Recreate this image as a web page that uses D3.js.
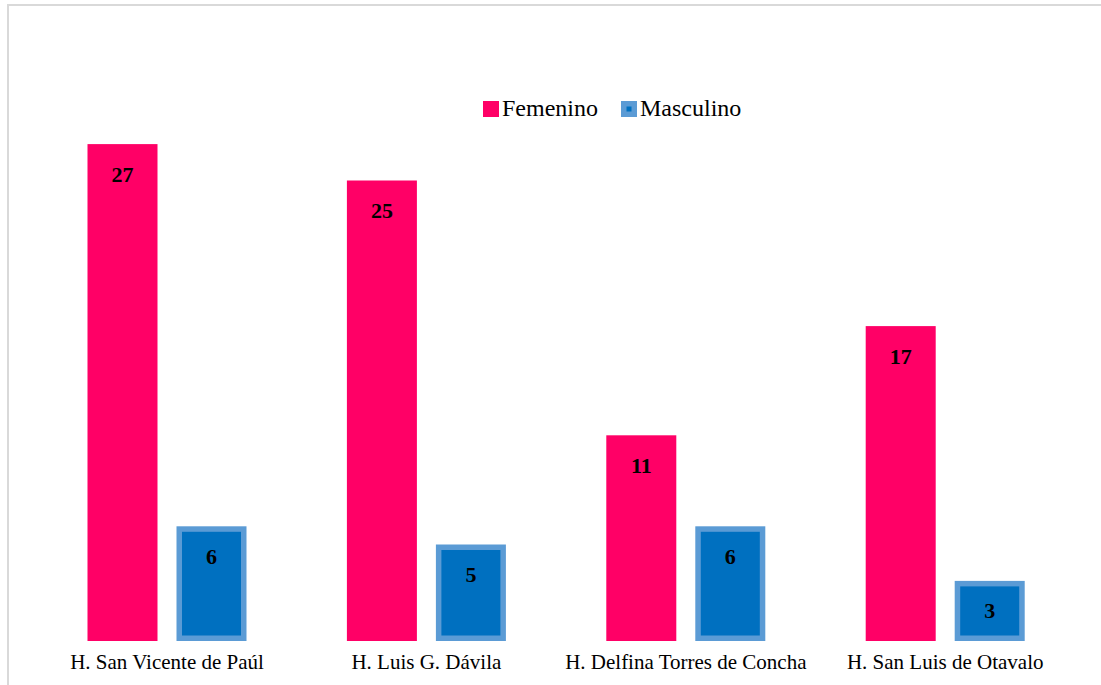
<!DOCTYPE html>
<html>
<head>
<meta charset="utf-8">
<script src="https://cdn.jsdelivr.net/npm/d3@7"></script>
<style>
  html, body { margin: 0; padding: 0; background: #fff; }
  svg { display: block; }
</style>
</head>
<body>
<svg id="chart" width="1101" height="685"></svg>
<script>
const categories = ["H. San Vicente de Paúl", "H. Luis G. Dávila", "H. Delfina Torres de Concha", "H. San Luis de Otavalo"];
const femenino = [27, 25, 11, 17];
const masculino = [6, 5, 6, 3];
const seriesNames = ["Femenino", "Masculino"];

const W = 1101, H = 685;
const svg = d3.select("#chart");
const font = "'Liberation Serif', 'Times New Roman', Times, serif";

// chart border (top and left visible)
svg.append("line").attr("x1", 8).attr("y1", 5).attr("x2", W).attr("y2", 5)
  .attr("stroke", "#d9d9d9").attr("stroke-width", 2);
svg.append("line").attr("x1", 8).attr("y1", 4).attr("x2", 8).attr("y2", H)
  .attr("stroke", "#d9d9d9").attr("stroke-width", 2);

const x0 = d3.scaleBand().domain(categories).range([37.3, 1074.9]).paddingInner(0).paddingOuter(0);
const x1 = d3.scaleBand().domain(seriesNames).range([0, x0.bandwidth()]).paddingInner(0.2135).paddingOuter(0.564);
const y = d3.scaleLinear().domain([0, 30]).range([635.5, 89.5]);
const base = y(0) + 5.5;

const FEM = "#FF0066", MASC = "#0070C0", MASC_EDGE = "#5B9BD5";
const bw = x1.bandwidth();
const sw = 5.5;

const groups = svg.append("g").selectAll("g").data(categories).join("g")
  .attr("transform", d => `translate(${x0(d)},0)`);

// femenino bars
groups.append("rect")
  .attr("x", x1("Femenino"))
  .attr("y", (d, i) => y(femenino[i]))
  .attr("width", bw)
  .attr("height", (d, i) => base - y(femenino[i]))
  .attr("fill", FEM);

// masculino bars (border inside)
groups.append("rect")
  .attr("x", x1("Masculino") + sw / 2)
  .attr("y", (d, i) => y(masculino[i]) + sw / 2)
  .attr("width", bw - sw)
  .attr("height", (d, i) => base - y(masculino[i]) - sw)
  .attr("fill", MASC)
  .attr("stroke", MASC_EDGE)
  .attr("stroke-width", sw);

// data labels
groups.append("text")
  .attr("x", x1("Femenino") + bw / 2)
  .attr("y", (d, i) => y(femenino[i]) + 37.5)
  .attr("text-anchor", "middle")
  .attr("font-family", font).attr("font-weight", "bold").attr("font-size", "22px")
  .attr("fill", "#000")
  .text((d, i) => femenino[i]);
groups.append("text")
  .attr("x", x1("Masculino") + bw / 2)
  .attr("y", (d, i) => y(masculino[i]) + 37.5)
  .attr("text-anchor", "middle")
  .attr("font-family", font).attr("font-weight", "bold").attr("font-size", "22px")
  .attr("fill", "#000")
  .text((d, i) => masculino[i]);

// category axis
const xAxis = svg.append("g").attr("transform", `translate(0,${base})`)
  .call(d3.axisBottom(x0).tickSize(0).tickPadding(0));
xAxis.attr("font-family", font);
xAxis.select(".domain").remove();
xAxis.selectAll("text")
  .attr("y", 28)
  .attr("dy", 0)
  .attr("font-family", font).attr("font-size", "21px").attr("fill", "#000");

// legend
const legend = svg.append("g");
legend.append("rect").attr("x", 483).attr("y", 101).attr("width", 16).attr("height", 16).attr("fill", FEM);
legend.append("text").attr("x", 502).attr("y", 116)
  .attr("font-family", font).attr("font-size", "24px").attr("fill", "#000").text(seriesNames[0]);
legend.append("rect").attr("x", 621 + 2.75).attr("y", 101 + 2.75).attr("width", 16 - 5.5).attr("height", 16 - 5.5)
  .attr("fill", MASC).attr("stroke", MASC_EDGE).attr("stroke-width", 5.5);
legend.append("text").attr("x", 640).attr("y", 116)
  .attr("font-family", font).attr("font-size", "24px").attr("fill", "#000").text(seriesNames[1]);
</script>
</body>
</html>
